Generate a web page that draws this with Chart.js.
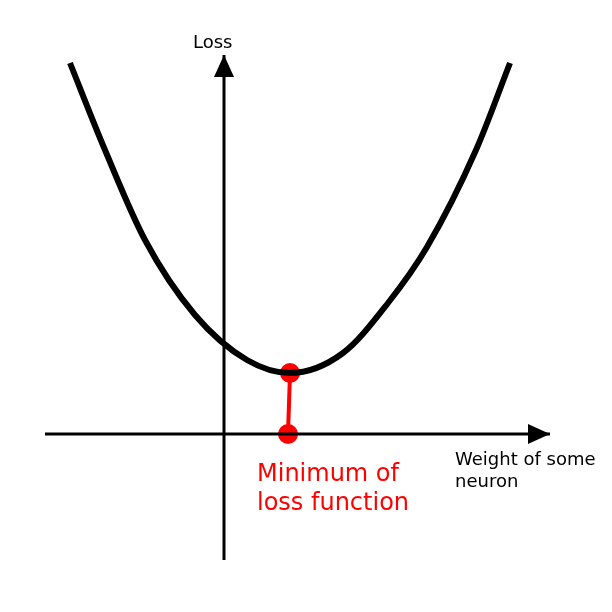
<!DOCTYPE html>
<html>
<head>
<meta charset="utf-8">
<script src="https://cdn.jsdelivr.net/npm/chart.js@4.4.1/dist/chart.umd.min.js"></script>
<style>
  html, body { margin: 0; padding: 0; background: #fff; }
  canvas { display: block; }
</style>
</head>
<body>
<canvas id="lossChart" width="612" height="612"></canvas>
<script>
// loss curve (weight, loss)
const curveX = [-3.08, -2.38, -1.58, -0.58, 0.46, 1.32, 2.38, 3.28, 4.06, 5.04, 5.72];
const curveY = [7.42, 5.68, 3.88, 2.38, 1.48, 1.22, 1.62, 2.62, 3.74, 5.68, 7.42];

// minimum marker: point on the curve and its foot on the weight axis
const minX = [1.32, 1.28];
const minY = [1.22, 0];

// axis extents
const weightAxisX = [-3.58, 6.52];
const lossAxisY = [-2.52, 7.58];

const axisLabel = 'Loss';
const weightLabel = ['Weight of some', 'neuron'];
const minLabel = ['Minimum of', 'loss function'];

document.addEventListener('DOMContentLoaded', function() {
    const ctx = document.getElementById('lossChart').getContext('2d');

    const toPoints = (xs, ys) => xs.map((x, i) => ({ x: x, y: ys[i] }));

    // arrow heads at the end of the two axes, plus the text labels
    const arrowPlugin = {
        id: 'arrows',
        afterDatasetsDraw(chart) {
            const c = chart.ctx;
            [0, 1].forEach(function(idx) {
                const pts = chart.getDatasetMeta(idx).data;
                const tip = pts[pts.length - 1];
                const prev = pts[pts.length - 2];
                const ang = Math.atan2(tip.y - prev.y, tip.x - prev.x);
                const len = 22, half = 10;
                c.save();
                c.translate(tip.x, tip.y);
                c.rotate(ang);
                c.beginPath();
                c.moveTo(0, 0);
                c.lineTo(-len, -half);
                c.lineTo(-len, half);
                c.closePath();
                c.fillStyle = '#000';
                c.fill();
                c.restore();
            });
        },
        afterDraw(chart) {
            const c = chart.ctx;
            c.save();
            c.textBaseline = 'alphabetic';
            c.textAlign = 'left';
            c.fillStyle = '#000';
            c.font = '18px "DejaVu Sans"';
            c.fillText(axisLabel, 193, 48);
            c.fillText(weightLabel[0], 455, 465);
            c.fillText(weightLabel[1], 455, 487);
            c.fillStyle = '#ff0000';
            c.font = '24px "DejaVu Sans"';
            c.fillText(minLabel[0], 257, 481);
            c.fillText(minLabel[1], 257, 510);
            c.restore();
        }
    };

    new Chart(ctx, {
        type: 'scatter',
        data: {
            datasets: [
                {
                    data: toPoints(weightAxisX, [0, 0]),
                    showLine: true,
                    borderColor: '#000',
                    borderWidth: 3,
                    pointRadius: 0
                },
                {
                    data: toPoints([0, 0], lossAxisY),
                    showLine: true,
                    borderColor: '#000',
                    borderWidth: 3,
                    pointRadius: 0
                },
                {
                    data: toPoints(curveX, curveY),
                    showLine: true,
                    borderColor: '#000',
                    borderWidth: 6,
                    pointRadius: 0,
                    cubicInterpolationMode: 'monotone',
                    borderCapStyle: 'butt'
                },
                {
                    data: toPoints(minX, minY),
                    showLine: true,
                    borderColor: '#ff0000',
                    borderWidth: 4,
                    backgroundColor: '#ff0000',
                    pointBackgroundColor: '#ff0000',
                    pointBorderWidth: 0,
                    pointRadius: 10
                }
            ]
        },
        options: {
            responsive: false,
            animation: false,
            layout: { padding: 0, autoPadding: false },
            plugins: {
                legend: { display: false },
                tooltip: { enabled: false }
            },
            scales: {
                x: { type: 'linear', min: -4.48, max: 7.76, display: false },
                y: { type: 'linear', min: -3.56, max: 8.68, display: false }
            }
        },
        plugins: [arrowPlugin]
    });
});
</script>
</body>
</html>
